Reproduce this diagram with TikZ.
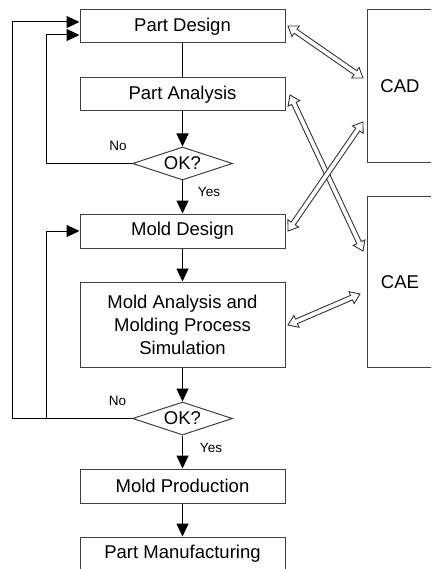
\documentclass[tikz,border=0pt]{standalone}
\usepackage{fontspec}
\setmainfont{Liberation Sans}
\usetikzlibrary{shapes.geometric,shapes.arrows,arrows.meta,calc}
\tikzset{
 box/.style={draw=black!75, line width=1pt, minimum width=205pt, minimum height=33pt, inner sep=0pt, font=\fontsize{18.5}{23}\selectfont, align=center},
 dec/.style={diamond, draw=black!75, line width=1pt, minimum width=100pt, minimum height=33pt, inner sep=0pt, aspect=3, font=\fontsize{18.5}{23}\selectfont},
 side/.style={draw=black!75, line width=1pt, inner sep=0pt, minimum width=66pt, font=\fontsize{18.5}{23}\selectfont},
 flow/.style={line width=1pt, -{Triangle[length=13pt,width=12pt]}},
 plain/.style={line width=1pt},
 lbl/.style={font=\fontsize{13.5}{16}\selectfont, inner sep=0pt},
 darrow/.style={double arrow, draw=black!80, line width=0.9pt, fill=white, inner xsep=0pt, inner ysep=2pt, double arrow head extend=4pt, double arrow tip angle=70},
}
\newcommand\dblarrow[2]{\path let \p1=($(#2)-(#1)$), \n1={veclen(\x1,\y1)}, \n2={atan2(\y1,\x1)} in node[darrow, minimum height=\n1, rotate=\n2] at ($(#1)!0.5!(#2)$) {};}
\begin{document}
\begin{tikzpicture}[x=1pt,y=-1pt]
\clip (0,0) rectangle (431,569);
\fill[white] (0,0) rectangle (431,569);
% flow nodes
\node[box] (pd) at (182.5,26.5) {Part Design};
\node[box] (pa) at (182.5,94.5) {Part Analysis};
\node[dec] (ok1) at (182.5,163.5) {OK?};
\node[box, minimum height=34pt] (md) at (182.5,231) {Mold Design};
\node[box, minimum height=85pt] (ma) at (182.5,324.5) {Mold Analysis and\\Molding Process\\Simulation};
\node[dec] (ok2) at (182.5,418.5) {OK?};
\node[box, minimum height=34pt] (mp) at (182.5,486) {Mold Production};
\node[box] (pm) at (182.5,553.5) {Part Manufacturing};
% side boxes
\node[side, minimum height=153pt] (cad) at (400,86.5) {CAD};
\node[side, minimum height=170pt] (cae) at (400,282) {CAE};
% main flow
\draw[plain] (pd.south) -- (pa.north);
\draw[flow] (pa.south) -- (ok1.north);
\draw[flow] (ok1.south) -- (md.north);
\draw[flow] (md.south) -- (ma.north);
\draw[flow] (ma.south) -- (ok2.north);
\draw[flow] (ok2.south) -- (mp.north);
\draw[flow] (mp.south) -- (pm.north);
% loops
\coordinate (pdA) at ($(pd.west)+(0,-4.5)$);
\coordinate (pdB) at ($(pd.west)+(0,8.5)$);
\coordinate (j1) at (46,163.5);
\coordinate (j2) at (46,418.5);
\coordinate (k2) at (12,418.5);
\draw[flow] (ok1.west) -- (j1) |- (pdB);
\draw[flow] (ok2.west) -- (k2) |- (pdA);
\draw[flow] (j2) |- (md.west);
% labels
\node[lbl] (no1) at (118,146) {No};
\node[lbl] (yes1) at (209,192) {Yes};
\node[lbl] (no2) at (117.5,401) {No};
\node[lbl] (yes2) at (211,448) {Yes};
% hollow double arrows
\coordinate (a1) at (288,26);  \coordinate (b1) at (363,78);
\coordinate (a2) at (290,95);  \coordinate (b2) at (363,251);
\coordinate (a3) at (288,231); \coordinate (b3) at (363,122);
\coordinate (a4) at (288,325); \coordinate (b4) at (360,294);
\dblarrow{a1}{b1}
\dblarrow{a2}{b2}
\dblarrow{a3}{b3}
\dblarrow{a4}{b4}
\end{tikzpicture}
\end{document}
